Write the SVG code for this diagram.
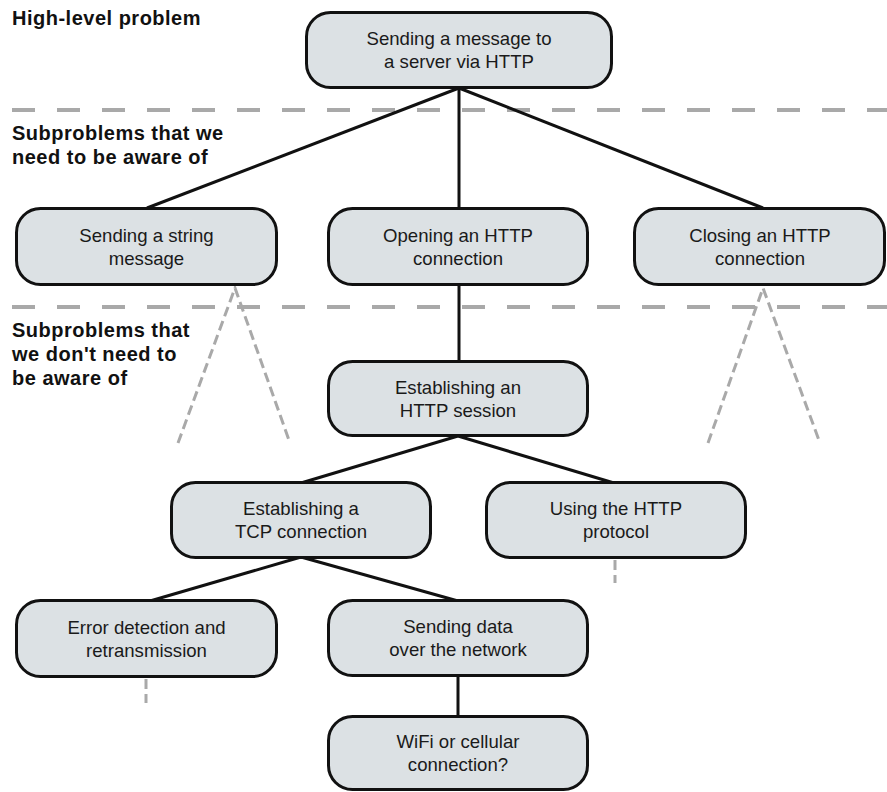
<svg xmlns="http://www.w3.org/2000/svg" width="887" height="792" viewBox="0 0 887 792">
  <style>
    .box { fill: #dce1e4; stroke: #111; stroke-width: 3; }
    .lbl { font-family: "Liberation Sans", Arial, sans-serif; font-size: 18.6px; fill: #1a1a1a; text-anchor: middle; }
    .head { font-family: "Liberation Sans", Arial, sans-serif; font-size: 20px; font-weight: bold; fill: #111; letter-spacing: 0.5px; }
    .link { stroke: #111; stroke-width: 3; fill: none; }
    .divider { stroke: #a9a9a9; stroke-width: 4; stroke-dasharray: 23 22; fill: none; }
    .hidden { stroke: #a9a9a9; stroke-width: 3; stroke-dasharray: 10 5; fill: none; }
  </style>

  <!-- level dividers -->
  <g id="dividers">
    <line class="divider" x1="12" y1="110" x2="887" y2="110"/>
    <line class="divider" x1="12" y1="307" x2="887" y2="307"/>
  </g>

  <!-- level headings -->
  <g id="headings">
    <text class="head" x="12" y="25">High-level problem</text>
    <text class="head" x="12" y="140">Subproblems that we</text>
    <text class="head" x="12" y="164">need to be aware of</text>
    <text class="head" x="12" y="337">Subproblems that</text>
    <text class="head" x="12" y="361">we don't need to</text>
    <text class="head" x="12" y="385">be aware of</text>
  </g>

  <!-- hidden subtrees -->
  <g id="hidden-links">
    <path class="hidden" d="M178,443 L235,288 L290,443"/>
    <path class="hidden" d="M708,443 L763,288 L820,443"/>
    <path class="hidden" d="M615,560 V583"/>
    <path class="hidden" d="M146,679 V703"/>
  </g>

  <!-- tree connectors -->
  <g id="connectors">
    <line class="link" x1="459" y1="88" x2="147" y2="208"/>
    <line class="link" x1="459" y1="88" x2="459" y2="208"/>
    <line class="link" x1="459" y1="88" x2="763" y2="208"/>
    <line class="link" x1="459" y1="285" x2="459" y2="362"/>
    <line class="link" x1="458" y1="436" x2="301" y2="483"/>
    <line class="link" x1="458" y1="436" x2="614" y2="483"/>
    <line class="link" x1="301" y1="557" x2="150" y2="601"/>
    <line class="link" x1="301" y1="557" x2="458" y2="601"/>
    <line class="link" x1="458" y1="676" x2="458" y2="717"/>
  </g>

  <g id="send-message">
    <rect class="box" x="306.5" y="12.5" width="305" height="75" rx="24"/>
    <text class="lbl" x="459" y="45">Sending a message to</text>
    <text class="lbl" x="459" y="68">a server via HTTP</text>
  </g>

  <g id="send-string">
    <rect class="box" x="16.5" y="208.5" width="260" height="76" rx="24"/>
    <text class="lbl" x="146.5" y="242">Sending a string</text>
    <text class="lbl" x="146.5" y="265">message</text>
  </g>

  <g id="open-http">
    <rect class="box" x="328.5" y="208.5" width="259" height="76" rx="24"/>
    <text class="lbl" x="458" y="242">Opening an HTTP</text>
    <text class="lbl" x="458" y="265">connection</text>
  </g>

  <g id="close-http">
    <rect class="box" x="634.5" y="208.5" width="250" height="76" rx="24"/>
    <text class="lbl" x="760" y="242">Closing an HTTP</text>
    <text class="lbl" x="760" y="265">connection</text>
  </g>

  <g id="http-session">
    <rect class="box" x="328.5" y="361.5" width="259" height="74" rx="24"/>
    <text class="lbl" x="458" y="394">Establishing an</text>
    <text class="lbl" x="458" y="417">HTTP session</text>
  </g>

  <g id="tcp-connection">
    <rect class="box" x="171.5" y="482.5" width="259" height="75" rx="24"/>
    <text class="lbl" x="301" y="515">Establishing a</text>
    <text class="lbl" x="301" y="538">TCP connection</text>
  </g>

  <g id="http-protocol">
    <rect class="box" x="486.5" y="482.5" width="259" height="75" rx="24"/>
    <text class="lbl" x="616" y="515">Using the HTTP</text>
    <text class="lbl" x="616" y="538">protocol</text>
  </g>

  <g id="error-detection">
    <rect class="box" x="16.5" y="600.5" width="260" height="76" rx="24"/>
    <text class="lbl" x="146.5" y="634">Error detection and</text>
    <text class="lbl" x="146.5" y="657">retransmission</text>
  </g>

  <g id="send-data">
    <rect class="box" x="328.5" y="600.5" width="259" height="75" rx="24"/>
    <text class="lbl" x="458" y="633">Sending data</text>
    <text class="lbl" x="458" y="656">over the network</text>
  </g>

  <g id="wifi-cellular">
    <rect class="box" x="328.5" y="716.5" width="259" height="73" rx="24"/>
    <text class="lbl" x="458" y="748">WiFi or cellular</text>
    <text class="lbl" x="458" y="771">connection?</text>
  </g>
</svg>
